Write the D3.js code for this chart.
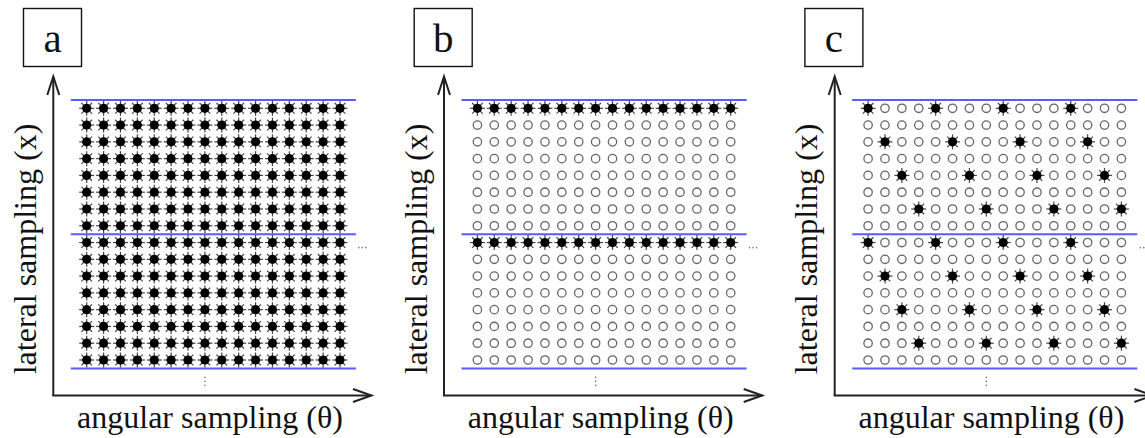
<!DOCTYPE html>
<html>
<head>
<meta charset="utf-8">
<script src="https://cdnjs.cloudflare.com/ajax/libs/d3/7.8.5/d3.min.js"></script>
<style>
  body { margin: 0; background: #fff; }
  svg text { font-family: "Liberation Serif", "Times New Roman", serif; fill: #111; }
</style>
</head>
<body>
<div id="chart"></div>
<script>
// panel letters and axis titles
var panelLabels = ["a", "b", "c"];
var xTitle = "angular sampling (\u03b8)";
var yTitle = "lateral sampling (x)";

// sampling masks for one block of 8 lateral rows x 16 angles (1 = sampled)
var maskA = [
    "1111111111111111",
    "1111111111111111",
    "1111111111111111",
    "1111111111111111",
    "1111111111111111",
    "1111111111111111",
    "1111111111111111",
    "1111111111111111"
];
var maskB = [
    "1111111111111111",
    "0000000000000000",
    "0000000000000000",
    "0000000000000000",
    "0000000000000000",
    "0000000000000000",
    "0000000000000000",
    "0000000000000000"
];
var maskC = [
    "1000100010001000",
    "0000000000000000",
    "0100010001000100",
    "0000000000000000",
    "0010001000100010",
    "0000000000000000",
    "0001000100010001",
    "0000000000000000"
];
var masks = [maskA, maskB, maskC];
var numBlocks = 2;

var width = 1145, height = 438;
var panelStep = 390.7;

var svg = d3.select("#chart").append("svg")
    .attr("width", width)
    .attr("height", height);

var nCols = maskA[0].length,
    nRows = maskA.length * numBlocks;

// grid scales (shared by every panel)
var xCol = d3.scalePoint().domain(d3.range(nCols)).range([86.7, 340]);
var yRow = d3.scalePoint().domain(d3.range(nRows)).range([108.3, 360]);
var colStep = xCol.step(), rowStep = yRow.step();

var axisColor = "#222";

panelLabels.forEach(function(label, p) {
    var g = svg.append("g")
        .attr("transform", "translate(" + (p * panelStep) + ",0)");

    // label box
    g.append("rect")
        .attr("x", 23.5).attr("y", 8.5)
        .attr("width", 58).attr("height", 58)
        .attr("fill", "none")
        .attr("stroke", "#111")
        .attr("stroke-width", 1.4);
    g.append("text")
        .attr("x", 52.5).attr("y", 52)
        .attr("text-anchor", "middle")
        .style("font-size", "41px")
        .text(label);

    // axes with open arrowheads
    var ox = 53.3, oy = 395.5;
    g.append("line")
        .attr("x1", ox).attr("y1", oy).attr("x2", ox).attr("y2", 77)
        .attr("stroke", axisColor).attr("stroke-width", 2);
    g.append("line")
        .attr("x1", ox - 1).attr("y1", oy).attr("x2", 371).attr("y2", oy)
        .attr("stroke", axisColor).attr("stroke-width", 2);
    g.append("path")
        .attr("d", "M" + (ox - 6) + "," + 95 + "L" + ox + "," + 76.5 + "L" + (ox + 6) + "," + 95)
        .attr("fill", "none").attr("stroke", axisColor).attr("stroke-width", 2)
        .attr("stroke-linejoin", "miter");
    g.append("path")
        .attr("d", "M" + 353 + "," + (oy - 6.5) + "L" + 371.5 + "," + oy + "L" + 353 + "," + (oy + 6.5))
        .attr("fill", "none").attr("stroke", axisColor).attr("stroke-width", 2);

    // axis titles
    g.append("text")
        .attr("x", 210).attr("y", 428)
        .attr("text-anchor", "middle")
        .style("font-size", "32px")
        .text(xTitle);
    g.append("text")
        .attr("transform", "translate(36,249) rotate(-90)")
        .attr("text-anchor", "middle")
        .style("font-size", "32px")
        .text(yTitle);

    // block boundaries (blue)
    var bounds = d3.range(numBlocks + 1).map(function(b) {
        return yRow(0) - rowStep / 2 + b * maskA.length * rowStep;
    });
    g.selectAll(".bound")
        .data(bounds)
        .enter().append("line")
        .attr("class", "bound")
        .attr("x1", xCol(0) - colStep + 1)
        .attr("x2", xCol(nCols - 1) + colStep - 1)
        .attr("y1", function(d) { return d; })
        .attr("y2", function(d) { return d; })
        .attr("stroke", "#5a5aff")
        .attr("stroke-width", 2);

    // build cells from the mask
    var mask = masks[p];
    var cells = [];
    for (var b = 0; b < numBlocks; b++) {
        mask.forEach(function(rowStr, r) {
            rowStr.split("").forEach(function(ch, c) {
                cells.push({row: b * mask.length + r, col: c, sampled: ch === "1"});
            });
        });
    }

    // hollow circles: not sampled
    g.selectAll(".empty")
        .data(cells.filter(function(d) { return !d.sampled; }))
        .enter().append("circle")
        .attr("class", "empty")
        .attr("cx", function(d) { return xCol(d.col); })
        .attr("cy", function(d) { return yRow(d.row); })
        .attr("r", 4.2)
        .attr("fill", "none")
        .attr("stroke", "#666")
        .attr("stroke-width", 1.3);

    // starburst: sampled
    var stars = g.selectAll(".star")
        .data(cells.filter(function(d) { return d.sampled; }))
        .enter().append("g")
        .attr("class", "star")
        .attr("transform", function(d) {
            return "translate(" + xCol(d.col) + "," + yRow(d.row) + ")";
        });
    var spikes = d3.range(8).map(function(i) { return i * Math.PI / 4; });
    stars.selectAll("line")
        .data(spikes)
        .enter().append("line")
        .attr("x1", 0).attr("y1", 0)
        .attr("x2", function(a) { return 7.5 * Math.cos(a); })
        .attr("y2", function(a) { return 7.5 * Math.sin(a); })
        .attr("stroke", "#444")
        .attr("stroke-width", 1.2);
    stars.append("circle")
        .attr("r", 4.6)
        .attr("fill", "#000");

    // continuation dots
    var midY = bounds[1];
    g.selectAll(".hdot")
        .data([0, 1, 2])
        .enter().append("circle")
        .attr("class", "hdot")
        .attr("cx", function(i) { return xCol(nCols - 1) + colStep + 2 + i * 3.5; })
        .attr("cy", midY + 13.5)
        .attr("r", 0.8)
        .attr("fill", "#777");
    g.selectAll(".vdot")
        .data([0, 1, 2])
        .enter().append("circle")
        .attr("class", "vdot")
        .attr("cx", xCol(7))
        .attr("cy", function(i) { return bounds[numBlocks] + 9 + i * 4; })
        .attr("r", 0.8)
        .attr("fill", "#777");
});
</script>
</body>
</html>
